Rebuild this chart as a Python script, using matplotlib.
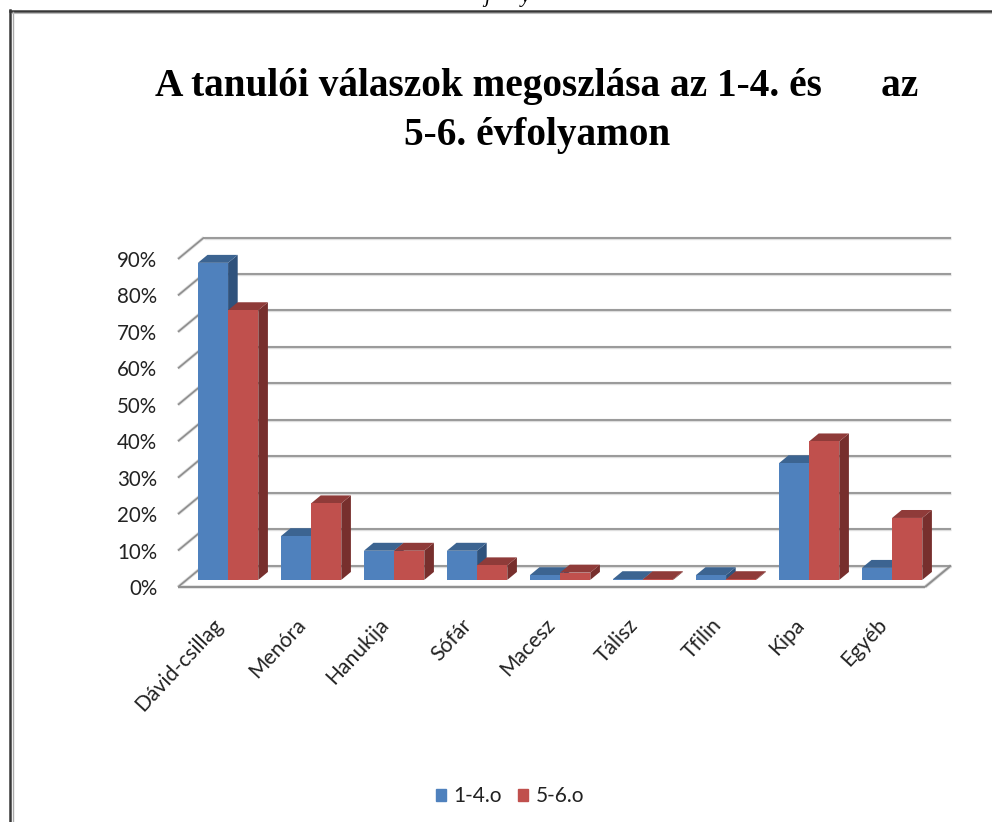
import matplotlib
matplotlib.use('Agg')
import matplotlib.pyplot as plt
from matplotlib.patches import Patch
from matplotlib.transforms import ScaledTranslation

categories = ['Dávid-csillag', 'Menóra', 'Hanukija', 'Sófár', 'Macesz', 'Tálisz', 'Tfilin', 'Kipa', 'Egyéb']
grade_1_4 = [87, 12, 8, 8, 1.3, 0.2, 1.3, 32, 3.3]
grade_5_6 = [74, 21, 8, 4, 2, 0.2, 0.2, 38, 17]
series_names = ['1-4.o', '5-6.o']
y_ticks = [0, 10, 20, 30, 40, 50, 60, 70, 80, 90]
y_labels = ['0%', '10%', '20%', '30%', '40%', '50%', '60%', '70%', '80%', '90%']

W, H = 992, 822
plt.rcParams['font.family'] = ['Lato', 'DejaVu Sans']

fig = plt.figure(figsize=(W / 100, H / 100), dpi=100, facecolor='white')
# front edge of the floor is the axes rectangle, the rest is sheared off it
ax = fig.add_axes([178 / W, (H - 587) / H, 747 / W, 328 / H])
ax.set_xlim(0, 9)
ax.set_ylim(0, 90)

# oblique projection: full floor depth in data units
DX = 26 / 83
DY = 21.5 / 3.645
BAR_FRONT = 0.33
BAR_BACK = 0.70
BAR_W = 0.364
GAP = (1 - 2 * BAR_W) / 2


def grid_line(xs, ys, lw=1.2, color='#8e8e8e'):
    ax.plot(xs, ys, color='#dedede', lw=lw + 1.2, clip_on=False, zorder=1, solid_capstyle='butt')
    ax.plot(xs, ys, color=color, lw=lw, clip_on=False, zorder=1.1, solid_capstyle='butt')


for t in y_ticks:
    grid_line([DX, 9 + DX], [t + DY, t + DY])
    grid_line([0, DX], [t, t + DY])
# floor outline
grid_line([0, 9], [0, 0], lw=1.4)
grid_line([9, 9 + DX], [0, DY], lw=1.4)


def draw_series(values, shift, front, top, side, z):
    for i, v in enumerate(values):
        x0 = i + GAP + shift + BAR_FRONT * DX
        x1 = x0 + BAR_W
        y0 = BAR_FRONT * DY
        y1 = y0 + v
        d_x = (BAR_BACK - BAR_FRONT) * DX
        d_y = (BAR_BACK - BAR_FRONT) * DY
        ax.fill([x1, x1 + d_x, x1 + d_x, x1], [y0, y0 + d_y, y1 + d_y, y1], color=side, lw=0, clip_on=False, zorder=z)
        ax.fill([x0, x1, x1 + d_x, x0 + d_x], [y1, y1, y1 + d_y, y1 + d_y], color=top, lw=0, clip_on=False, zorder=z)
        ax.bar(x0, v, width=BAR_W, bottom=y0, align='edge', color=front, lw=0, clip_on=False, zorder=z + 0.1)


draw_series(grade_1_4, 0, '#4f81bd', '#3c6491', '#2f527c', 3)
draw_series(grade_5_6, BAR_W, '#c0504d', '#8f3b39', '#772f2d', 4)

for s in ax.spines.values():
    s.set_visible(False)
ax.patch.set_visible(False)

ax.set_yticks(y_ticks)
ax.set_yticklabels(y_labels, fontsize=14.8, color='#222222')
ax.tick_params(axis='y', length=0, pad=15)
ax.set_xticks([i + 0.5 for i in range(len(categories))])
ax.set_xticklabels(categories, fontsize=15.2, color='#222222', rotation=47, ha='right', rotation_mode='anchor')
ax.tick_params(axis='x', length=0, pad=20)
# labels sit a little left of the category centre
for lab in ax.get_xticklabels():
    lab.set_transform(lab.get_transform() + ScaledTranslation(-7 / 100, 0, fig.dpi_scale_trans))

handles = [Patch(color='#4f81bd', label=series_names[0]), Patch(color='#c0504d', label=series_names[1])]
fig.legend(handles=handles, loc='center', bbox_to_anchor=(510 / W, (H - 796) / H), ncol=2, frameon=False,
           fontsize=15, handlelength=0.5, handleheight=0.5, handletextpad=0.35, columnspacing=0.75,
           labelcolor='#222222')

# title, two lines placed by baseline
title_font = dict(family='Liberation Serif', fontweight='bold', color='black', ha='center', va='baseline')
fig.text(537 / W, (H - 96) / H, 'A tanulói válaszok megoszlása az 1-4. és      az', fontsize=28.3, **title_font)
fig.text(537 / W, (H - 145) / H, '5-6. évfolyamon', fontsize=28.3, **title_font)

# page frame, runs off the right and bottom of the crop
fig.add_artist(plt.Line2D([10 / W, 1], [(H - 11) / H, (H - 11) / H], color='#383838', lw=1.8))
fig.add_artist(plt.Line2D([10 / W, 10 / W], [0, (H - 10) / H], color='#383838', lw=1.8))
fig.add_artist(plt.Line2D([12.5 / W, 12.5 / W], [0, (H - 12) / H], color='#aaaaaa', lw=1.0))
fig.add_artist(plt.Line2D([12 / W, 1], [(H - 13) / H, (H - 13) / H], color='#bbbbbb', lw=0.8))

# clipped caption from the page above the frame
for x, ch in zip([487, 525], ['j', 'y']):
    fig.text(x / W, (H - 2) / H, ch, family='Liberation Serif', style='italic', fontsize=15, color='black',
             ha='center', va='baseline')

fig.savefig('out.png', dpi=100, facecolor='white')
